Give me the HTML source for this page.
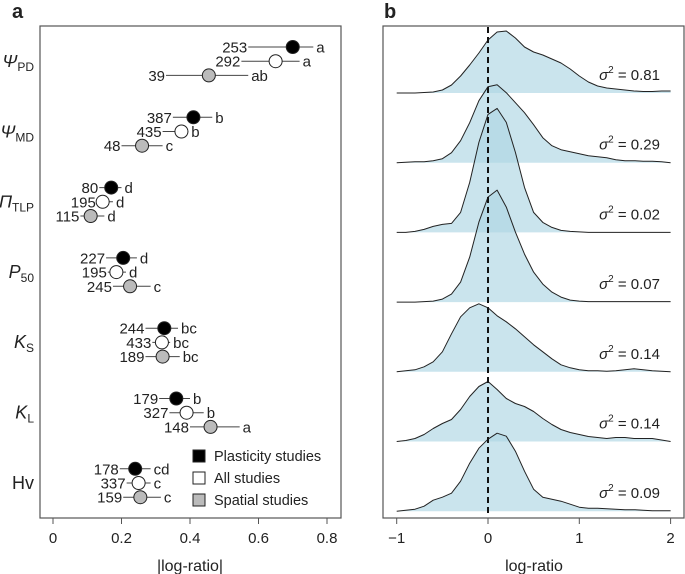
<!DOCTYPE html>
<html><head><meta charset="utf-8"><style>
body{margin:0;background:#fff;font-family:"Liberation Sans",sans-serif}
svg{display:block}
text{font-family:"Liberation Sans",sans-serif;fill:#222}
</style></head><body>
<svg id="s" width="685" height="574"></svg>
<script>
const traits=["ΨPD","ΨMD","ΠTLP","P50","KS","KL","Hv"];
const groups=["Plasticity studies","All studies","Spatial studies"];
const meanVals=[[0.70,0.65,0.455],[0.41,0.375,0.26],[0.17,0.145,0.11],[0.205,0.185,0.225],[0.325,0.318,0.32],[0.36,0.39,0.46],[0.24,0.25,0.255]];
const ciLow=[[0.57,0.55,0.33],[0.35,0.32,0.2],[0.135,0.128,0.08],[0.155,0.16,0.175],[0.27,0.29,0.27],[0.31,0.34,0.4],[0.195,0.215,0.205]];
const ciHigh=[[0.76,0.72,0.57],[0.465,0.395,0.32],[0.2,0.175,0.15],[0.245,0.213,0.285],[0.365,0.342,0.37],[0.4,0.44,0.545],[0.285,0.285,0.315]];
const nVals=[[253,292,39],[387,435,48],[80,195,115],[227,195,245],[244,433,189],[179,327,148],[178,337,159]];
const letters=[["a","a","ab"],["b","b","c"],["d","d","d"],["d","d","c"],["bc","bc","bc"],["b","b","a"],["cd","c","c"]];
const aTicks=[0,0.2,0.4,0.6,0.8];
const sigmaLabels=["0.81","0.29","0.02","0.07","0.14","0.14","0.09"];
const densX=[-1,-0.9,-0.8,-0.7,-0.6,-0.5,-0.4,-0.3,-0.2,-0.1,0,0.1,0.2,0.3,0.4,0.5,0.6,0.7,0.8,0.9,1,1.1,1.2,1.3,1.4,1.5,1.6,1.7,1.8,1.9,2];
const dens1=[0,0,0,0.5,1,3,8,17,28,40,53,61,62,55,46,41,38,34,30,24,17,11,7,5,4,3,2,1.5,1.5,2,2];
const dens2=[0,0.5,1,1,2,4,10,22,40,62,76,78,70,60,50,38,25,17,13,11,9,7,6,5,3,2,2,1.5,1.5,1,0];
const dens3=[0,0,1,3,6,8,9,20,50,90,118,124,110,80,45,20,10,5,2,1,0.5,0,0,0,0,0,0,0,0,0,0];
const dens4=[0,0,0,0.5,1,3,8,20,45,80,105,112,95,70,48,30,18,10,5,2,1,0.5,0.5,0.5,0.5,0.5,0.5,0.5,0.5,0.5,0.5];
const dens5=[0,1,2,5,10,20,38,55,64,68,64,56,50,43,35,27,20,13,7,4,2,1,1,0.5,1,2,3,2,1,0.5,0];
const dens6=[0,1,3,7,13,18,22,32,45,55,60,52,43,38,35,30,23,17,12,9,7,5,4,3,4,4,3,3,3,1.5,0];
const dens7=[0,1,2,5,11,14,18,30,48,63,72,78,75,60,40,22,14,12,10,7,4,3,3,2.5,2,1.5,1.5,1,0.5,0.5,0.5];
const densities=[dens1,dens2,dens3,dens4,dens5,dens6,dens7];
const bTicks=[-1,0,1,2];

const NS="http://www.w3.org/2000/svg",S=document.getElementById('s');
function el(t,a,p){const e=document.createElementNS(NS,t);for(const k in a)e.setAttribute(k,a[k]);(p||S).appendChild(e);return e;}
function tx(x,y,s,a,p){const e=el('text',Object.assign({x:x,y:y},a),p);e.textContent=s;return e;}
// panel a
const ax=v=>53+v*342.5;
const rowY=i=>47+i*70.3;
let t=tx(12,18,"a",{"font-size":20,"font-weight":"bold"});

let r=el('rect',{x:40,y:26,width:301,height:492,fill:"none",stroke:"#555","stroke-width":1.2});

aTicks.forEach(v=>{const g=el('g',{});
 el('line',{x1:ax(v),x2:ax(v),y1:518,y2:524,stroke:"#555"},g);tx(ax(v),543,String(v),{"font-size":15,"text-anchor":"middle"},g);});
t=tx(190,571,"|log-ratio|",{"font-size":16,"text-anchor":"middle"});
const traitLbl=[["Ψ","PD",1],["Ψ","MD",1],["Π","TLP",1],["P","50",1],["K","S",1],["K","L",1],["Hv","",0]];
const fills=["#000","#fff","#bbb"];
traits.forEach((tr,i)=>{
 const g=el('g',{});
 const L=traitLbl[i];const tt=el('text',{x:34,y:rowY(i)+20,"font-size":18,"text-anchor":"end"},g);
 const a=document.createElementNS(NS,'tspan');a.textContent=L[0];if(L[2])a.setAttribute('font-style','italic');tt.appendChild(a);
 if(L[1]){const b=document.createElementNS(NS,'tspan');b.textContent=L[1];b.setAttribute('font-size',12);b.setAttribute('dy',4);tt.appendChild(b);}
 for(let j=0;j<3;j++){const y=rowY(i)+j*14.2;
  const pg=el('g',{},g);
  el('line',{x1:ax(ciLow[i][j]),x2:ax(ciHigh[i][j]),y1:y,y2:y,stroke:"#444","stroke-width":1},pg);
  el('circle',{cx:ax(meanVals[i][j]),cy:y,r:6.5,fill:fills[j],stroke:"#222","stroke-width":1},pg);
  tx(ax(ciLow[i][j])-1,y+5.5,String(nVals[i][j]),{"font-size":15,"text-anchor":"end"},pg);
  tx(ax(ciHigh[i][j])+3,y+5.5,letters[i][j],{"font-size":15},pg);}
});
groups.forEach((gname,j)=>{const g=el('g',{});
 el('rect',{x:193,y:450+j*22,width:12,height:12,fill:fills[j],stroke:"#222"},g);tx(214,461+j*22,gname,{"font-size":14.5},g);});
// panel b
const bx=v=>488+v*91.3;
const base=i=>93+i*69.7;
t=tx(384,18,"b",{"font-size":20,"font-weight":"bold"});
densities.forEach((d,i)=>{
 let line="";
 d.forEach((v,k)=>{line+=(k?" L":"M")+bx(densX[k]).toFixed(1)+","+(base(i)-v).toFixed(1);});
 const g=el('g',{});
 el('path',{d:"M"+bx(densX[0])+","+base(i)+" "+line.replace(/^M/,"L")+" L"+bx(densX[densX.length-1])+","+base(i)+"Z",fill:"rgba(173,214,228,0.65)",stroke:"none"},g);
 el('path',{d:line,fill:"none",stroke:"#222","stroke-width":1,"stroke-linejoin":"round"},g);
 const st=el('text',{x:660,y:base(i)-13,"font-size":15,"text-anchor":"end"},g);
 const s1=document.createElementNS(NS,'tspan');s1.textContent="σ";s1.setAttribute('font-style','italic');st.appendChild(s1);
 const s2=document.createElementNS(NS,'tspan');s2.textContent="2";s2.setAttribute('font-size',10);s2.setAttribute('dy',-7);st.appendChild(s2);
 const s3=document.createElementNS(NS,'tspan');s3.textContent=" = "+sigmaLabels[i];s3.setAttribute('dy',7);st.appendChild(s3);
});
let dl=el('line',{x1:bx(0),x2:bx(0),y1:27,y2:517,stroke:"#111","stroke-width":2,"stroke-dasharray":"6,4"});

r=el('rect',{x:383,y:26,width:301,height:492,fill:"none",stroke:"#555","stroke-width":1.2});

bTicks.forEach(v=>{const g=el('g',{});
 el('line',{x1:bx(v),x2:bx(v),y1:518,y2:524,stroke:"#555"},g);tx(bx(v),543,v<0?"−"+(-v):String(v),{"font-size":15,"text-anchor":"middle"},g);});
t=tx(534,571,"log-ratio",{"font-size":16,"text-anchor":"middle"});
</script>
</body></html>
